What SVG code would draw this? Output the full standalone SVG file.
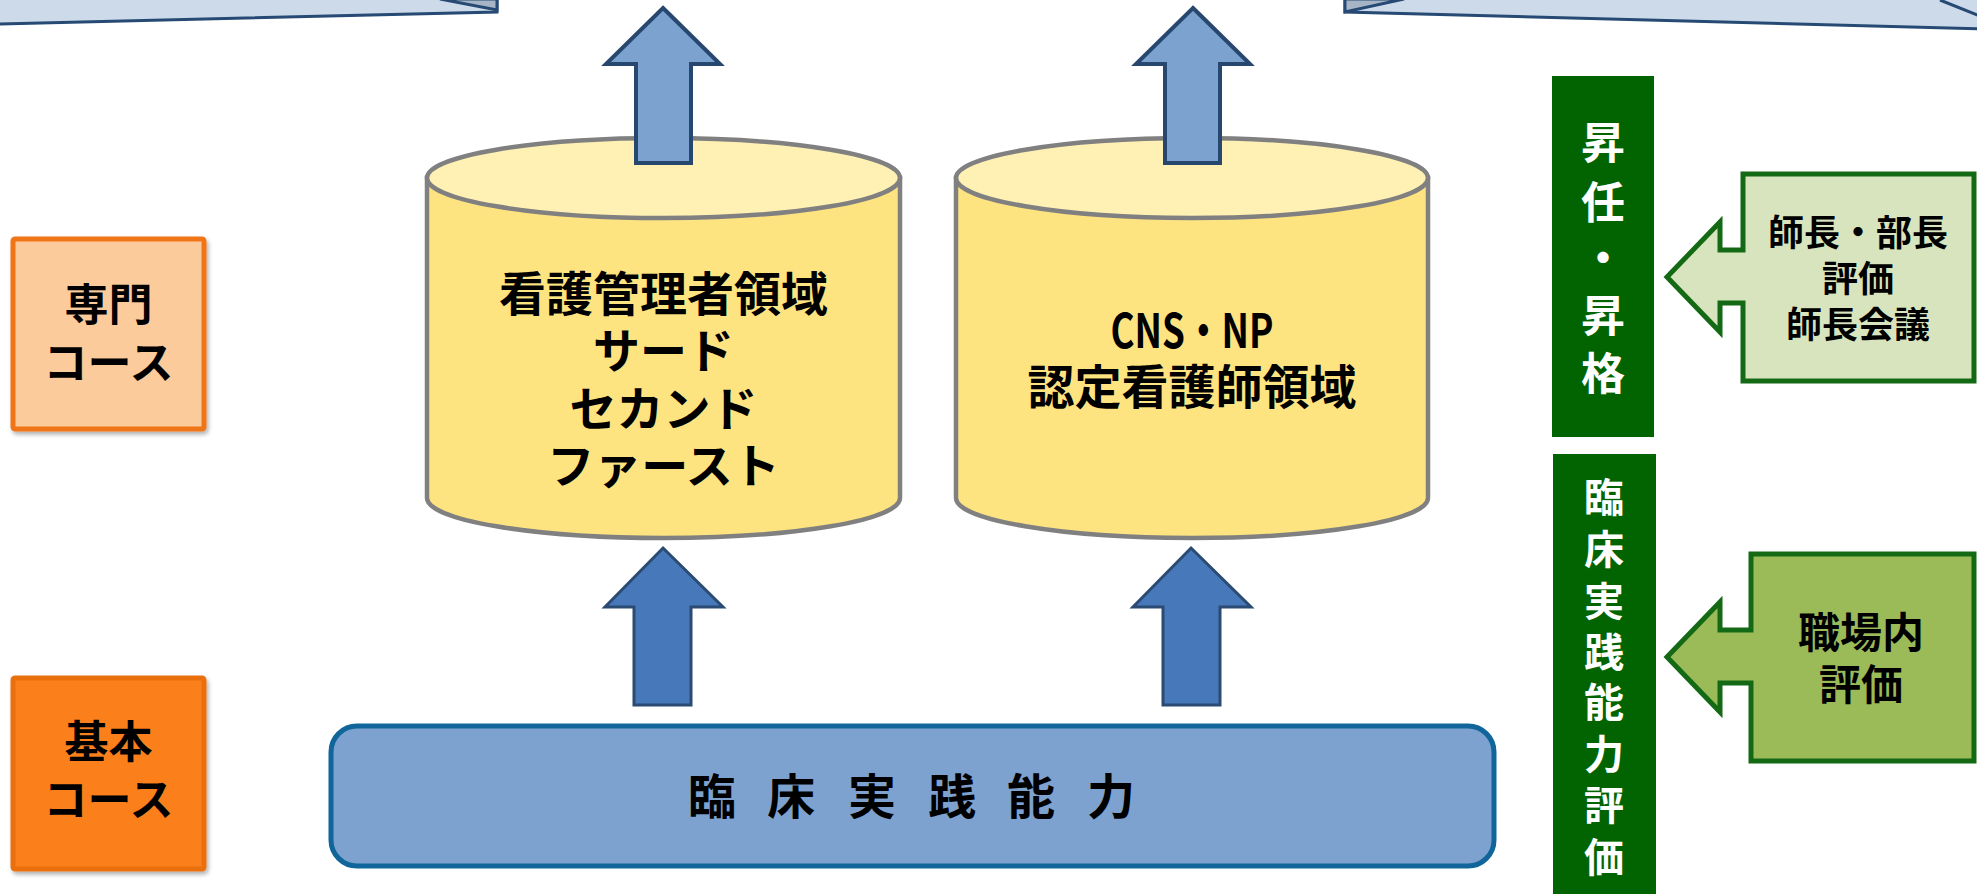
<svg xmlns="http://www.w3.org/2000/svg" width="1977" height="894" viewBox="0 0 1977 894">
<defs>
<style>
.t{font-family:"Noto Sans CJK JP","Noto Sans",sans-serif;font-weight:700;text-anchor:middle;dominant-baseline:central;fill:#000}
.w{fill:#fff}
.cylb{fill:#fee381;stroke:#808080;stroke-width:4.5}
.cylt{fill:#fff0b3;stroke:#808080;stroke-width:4.5}
.upA{fill:#7ca2cf;stroke:#28476f;stroke-width:4}
.upB{fill:#4778b9;stroke:#2b4b73;stroke-width:3}
.bnr{fill:#cddaea;stroke:#264a73;stroke-width:3}
.drk{fill:#a7b4c6;stroke:#264a73;stroke-width:3}
.gbar{fill:#016401}
.call{stroke:#146a14;stroke-width:5}
</style>
<filter id="sh" x="-10%" y="-10%" width="130%" height="130%">
<feDropShadow dx="2" dy="3" stdDeviation="2" flood-color="#000" flood-opacity="0.3"/>
</filter>
</defs>
<rect width="1977" height="894" fill="#fff"/>

<g id="banner-left">
<polygon class="bnr" points="-10,-10 497,-10 497,12 0,24 -10,24"/>
<polygon class="drk" points="440,-1 497,10 497,-1"/>
</g>
<g id="banner-right">
<polygon class="bnr" points="1345,-10 1345,12 1990,29 1990,-10"/>
<polygon class="drk" points="1345,-1 1345,12 1404,-1"/>
<line x1="1940" y1="0" x2="1990" y2="20" stroke="#264a73" stroke-width="3"/>
</g>

<g id="cyl-manager">
<path class="cylb" d="M427,178 L427,498 A236.5,40 0 0 0 900,498 L900,178 Z"/>
<ellipse class="cylt" cx="663.5" cy="178" rx="236.5" ry="40"/>
<text class="t" font-size="47"><tspan x="663.5" y="290">看護管理者領域</tspan><tspan x="663.5" y="347">サード</tspan><tspan x="663.5" y="405">セカンド</tspan><tspan x="663.5" y="462">ファースト</tspan></text>
</g>
<g id="cyl-cns">
<path class="cylb" d="M956,178 L956,498 A236,40 0 0 0 1428,498 L1428,178 Z"/>
<ellipse class="cylt" cx="1192" cy="178" rx="236" ry="40"/>
<text class="t" font-size="47"><tspan x="1192" y="327" textLength="163" lengthAdjust="spacingAndGlyphs">CNS・NP</tspan><tspan x="1192" y="383">認定看護師領域</tspan></text>
</g>

<g id="connectors">
<polygon class="upA" points="663,8 720,64 691,64 691,163 636,163 636,64 606,64"/>
<polygon class="upA" points="1193,8 1250,64 1220,64 1220,163 1165,163 1165,64 1136,64"/>
<polygon class="upB" points="663,548 723,607 691,607 691,705 634,705 634,607 605,607"/>
<polygon class="upB" points="1191,548 1251,607 1220,607 1220,705 1163,705 1163,607 1133,607"/>
</g>

<g id="course-senmon">
<rect x="13" y="239" width="191" height="190" fill="#fccb9b" stroke="#f07417" stroke-width="5" rx="2" filter="url(#sh)"/>
<text class="t" font-size="44"><tspan x="108.5" y="302">専門</tspan><tspan x="108.5" y="360">コース</tspan></text>
</g>
<g id="course-kihon">
<rect x="13" y="678" width="191" height="191" fill="#fb801f" stroke="#e9700f" stroke-width="5" rx="2" filter="url(#sh)"/>
<text class="t" font-size="44"><tspan x="108.5" y="739">基本</tspan><tspan x="108.5" y="797">コース</tspan></text>
</g>

<g id="clinical-bar">
<rect x="331" y="726" width="1163" height="140" rx="26" fill="#7ea2cf" stroke="#10669a" stroke-width="5"/>
<text class="t" font-size="48" x="712 791 872 952 1031 1111" y="793">臨床実践能力</text>
</g>

<g id="promotion">
<rect class="gbar" x="1552" y="76" width="102" height="361"/>
<text class="t w" font-size="44"><tspan x="1603" y="140">昇</tspan><tspan x="1603" y="200">任</tspan><tspan x="1603" y="255">・</tspan><tspan x="1603" y="313">昇</tspan><tspan x="1603" y="371">格</tspan></text>
</g>
<g id="clinical-eval">
<rect class="gbar" x="1553" y="454" width="103" height="440"/>
<text class="t w" font-size="40"><tspan x="1604" y="495">臨</tspan><tspan x="1604" y="547">床</tspan><tspan x="1604" y="599">実</tspan><tspan x="1604" y="650">践</tspan><tspan x="1604" y="700">能</tspan><tspan x="1604" y="752">力</tspan><tspan x="1604" y="803">評</tspan><tspan x="1604" y="855">価</tspan></text>
</g>

<g id="callout-head">
<path class="call" fill="#d8e4bd" d="M1743,174 H1974 V381 H1743 V303 H1720 V332 L1667,277 L1720,222 V250 H1743 Z"/>
<text class="t" font-size="36"><tspan x="1858" y="230">師長・部長</tspan><tspan x="1858" y="276">評価</tspan><tspan x="1858" y="322">師長会議</tspan></text>
</g>
<g id="callout-work">
<path class="call" fill="#9bbb59" d="M1751,554 H1974 V761 H1751 V683 H1720 V712 L1667,657 L1720,602 V630 H1751 Z"/>
<text class="t" font-size="42"><tspan x="1861" y="629">職場内</tspan><tspan x="1861" y="681">評価</tspan></text>
</g>
</svg>
